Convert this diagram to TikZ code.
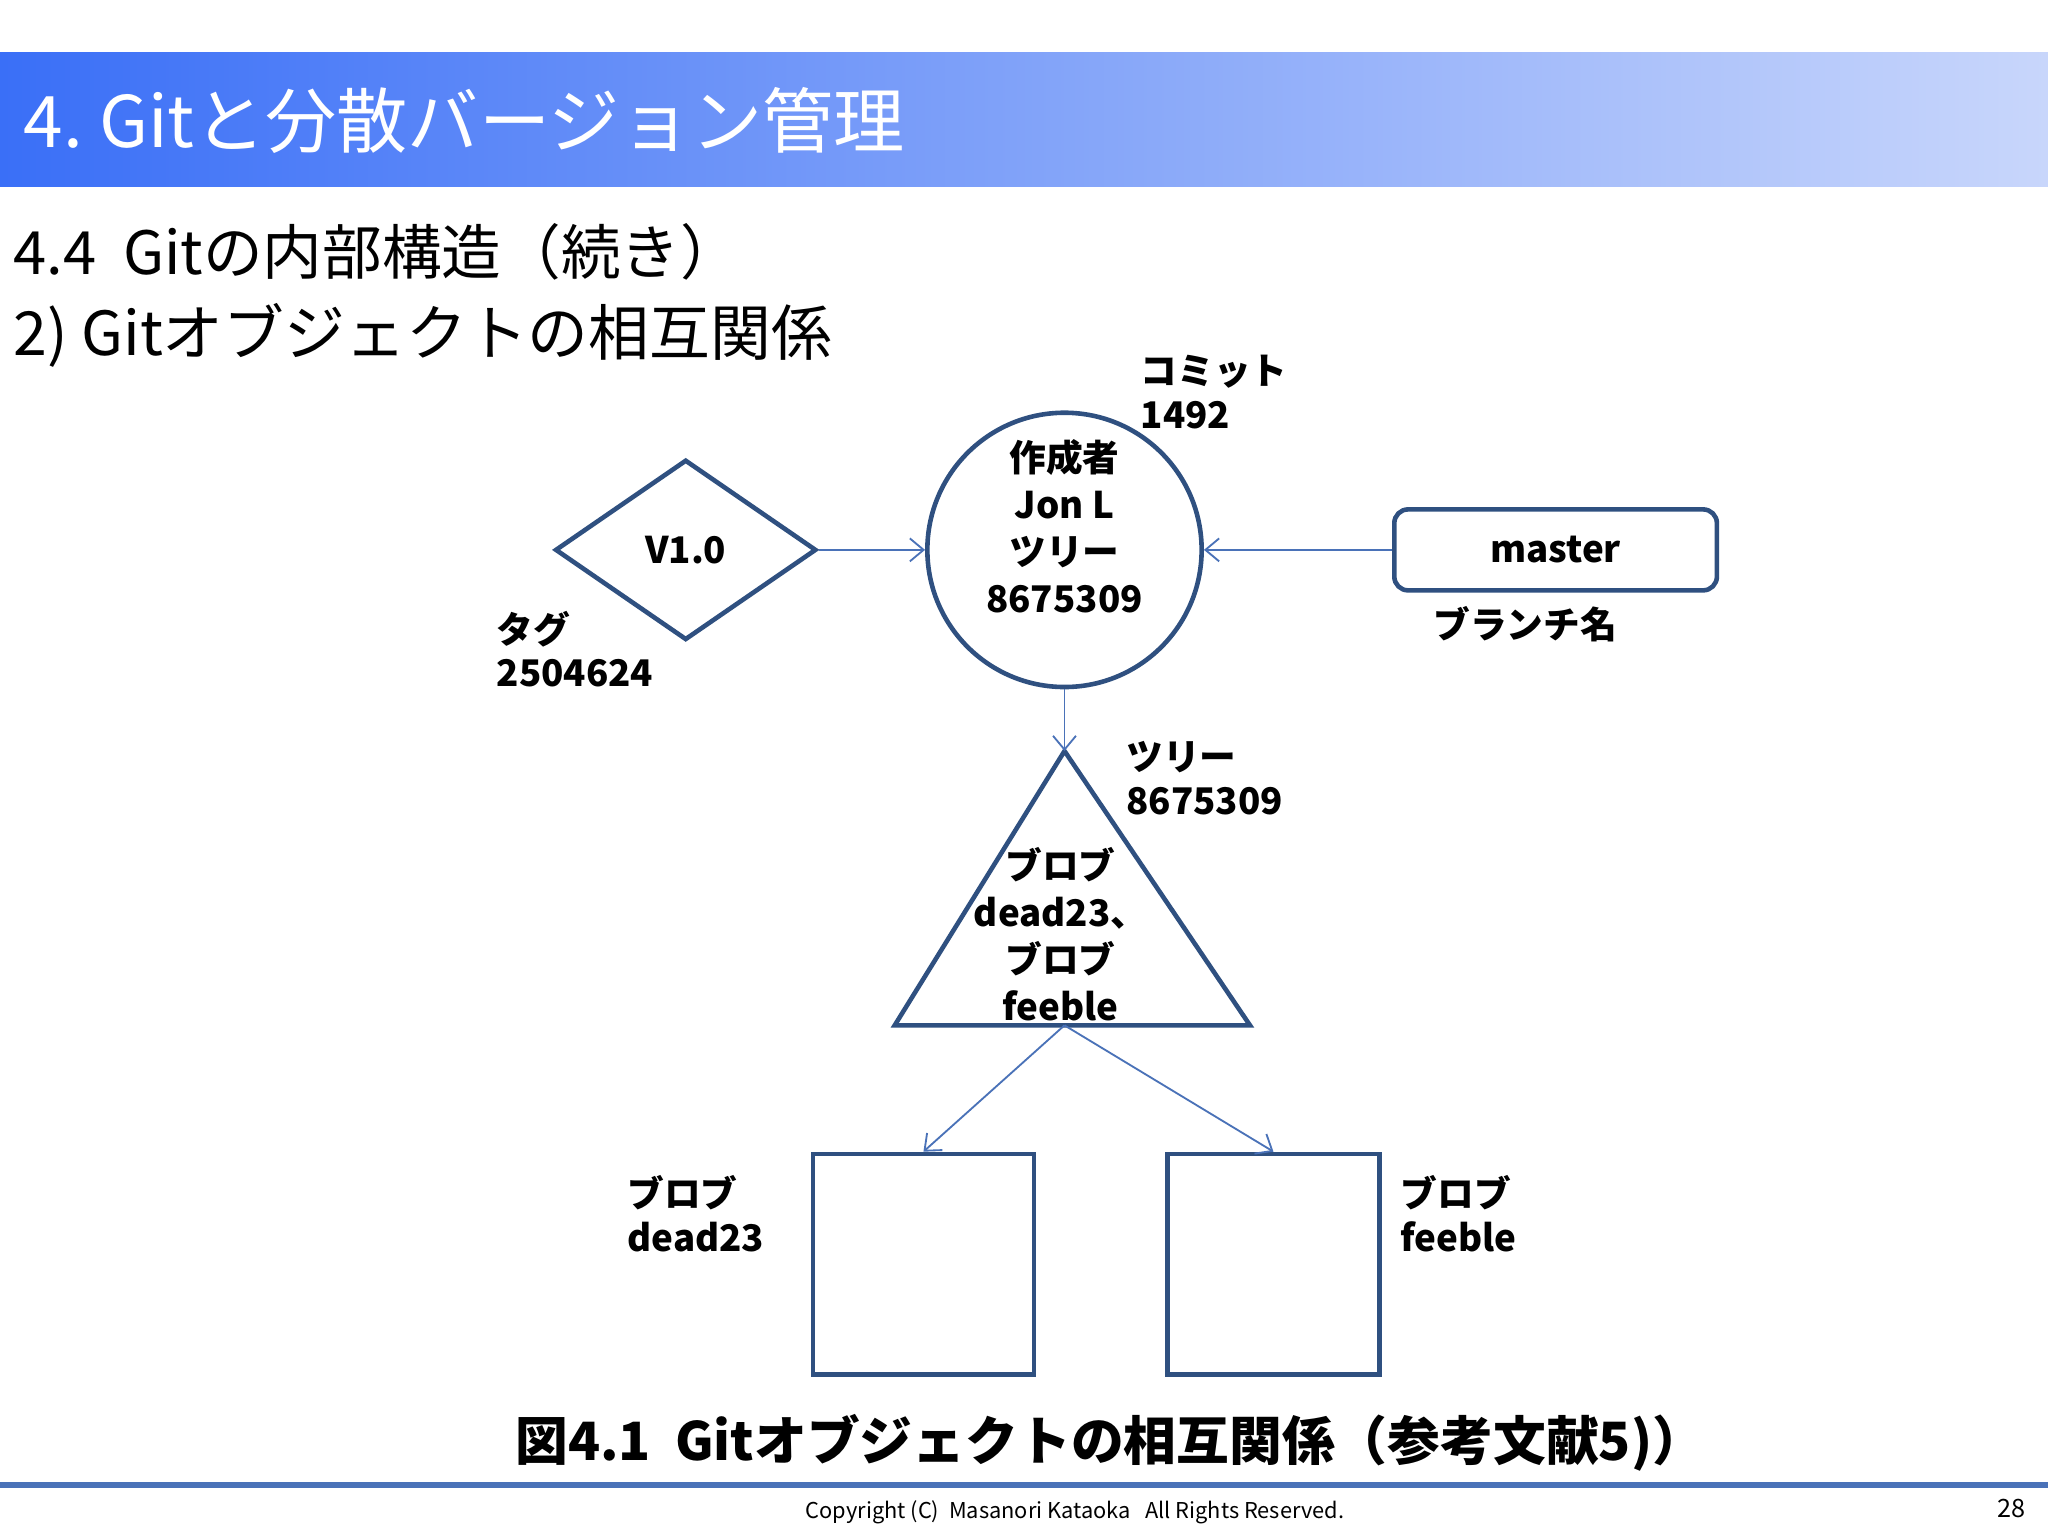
\documentclass[tikz,border=0pt]{standalone}
\usepackage{fontspec}
\setmainfont{Noto Sans CJK JP}
\usetikzlibrary{shapes.geometric,arrows.meta}
\definecolor{edge}{HTML}{2F5080}
\definecolor{arr}{HTML}{4A72B8}
\tikzset{
 shp/.style={draw=edge,line width=2pt},
 con/.style={draw=arr,line width=0.8pt,-{Straight Barb[length=6pt,width=10pt]}},
 lbl/.style={font=\fontsize{16}{19}\selectfont\bfseries,align=left,anchor=west,inner sep=0pt},
 inl/.style={font=\fontsize{16}{20.5}\selectfont\bfseries,align=center,inner sep=0pt},
}
\begin{document}
\begin{tikzpicture}[x=0.02cm,y=-0.02cm]
\useasboundingbox (0,0) rectangle (1568,1176);
\fill[white] (0,0) rectangle (1568,1176);
\shade[left color={rgb,255:red,58;green,111;blue,247},right color={rgb,255:red,200;green,214;blue,251}] (0,40) rectangle (1568,143);
\node[anchor=west,text=white,font=\fontsize{31}{32}\selectfont,inner sep=0pt] (title) at (18,92) {4.\ Gitと分散バージョン管理};
\node[anchor=west,font=\fontsize{26}{28}\selectfont,inner sep=0pt] (sub1) at (10,193) {4.4\ \ Gitの内部構造（続き）};
\node[anchor=west,font=\fontsize{26.5}{28}\selectfont,inner sep=0pt] (sub2) at (10,257) {2) Gitオブジェクトの相互関係};
% shapes
\node[shp,diamond,minimum width=200*0.02cm,minimum height=138*0.02cm,inner sep=0pt,font=\fontsize{16}{19}\selectfont\bfseries] (tag) at (525,421) {V1.0};
\node[shp,circle,minimum size=210*0.02cm,inner sep=0pt] (commit) at (815,421) {};
\node[inl] (ctext) at (815,403) {作成者\\Jon L\\ツリー\\8675309};
\node[shp,rounded corners=6pt,minimum width=247*0.02cm,minimum height=62*0.02cm,inner sep=0pt,font=\fontsize{16}{19}\selectfont\bfseries] (master) at (1191,421) {master};
\coordinate (ta) at (815,575);
\coordinate (tl) at (685,785);
\coordinate (tr) at (957,785);
\coordinate (tb) at (815,785);
\draw[shp] (ta) -- (tl) -- (tr) -- cycle;
\node[inl] (ttext) at (812,715) {ブロブ\\dead23、\\ブロブ\\feeble};
\node[shp,minimum width=169*0.02cm,minimum height=169*0.02cm,inner sep=0pt] (b1) at (707,968) {};
\node[shp,minimum width=162*0.02cm,minimum height=169*0.02cm,inner sep=0pt] (b2) at (975,968) {};
% connectors
\draw[con] (tag.east) -- (commit.west);
\draw[con] (master.west) -- (commit.east);
\draw[con] (commit.south) -- (ta);
\draw[con] (tb) -- (b1.north);
\draw[con] (tb) -- (b2.north);
% labels
\node[lbl] (l1) at (873,300) {コミット\\1492};
\node[lbl] (l2) at (380,497) {タグ\\2504624};
\node[lbl] (l3) at (1097,478) {ブランチ名};
\node[lbl] (l4) at (862,596) {ツリー\\8675309};
\node[lbl] (l5) at (480,929) {ブロブ\\dead23};
\node[lbl] (l6) at (1072,929) {ブロブ\\feeble};
\node[font=\fontsize{23}{25}\selectfont\bfseries,inner sep=0pt] (cap) at (850,1105) {図4.1\ \ Gitオブジェクトの相互関係（参考文献5)）};
\draw[arr,line width=2.5pt] (0,1137) -- (1568,1137);
\node[font=\fontsize{9.5}{11}\selectfont,inner sep=0pt] (copy) at (823,1158) {Copyright (C)\ \ Masanori Kataoka\ \ \ All Rights Reserved.};
\node[font=\fontsize{11}{12}\selectfont,inner sep=0pt] (pg) at (1540,1155) {28};
\end{tikzpicture}
\end{document}
